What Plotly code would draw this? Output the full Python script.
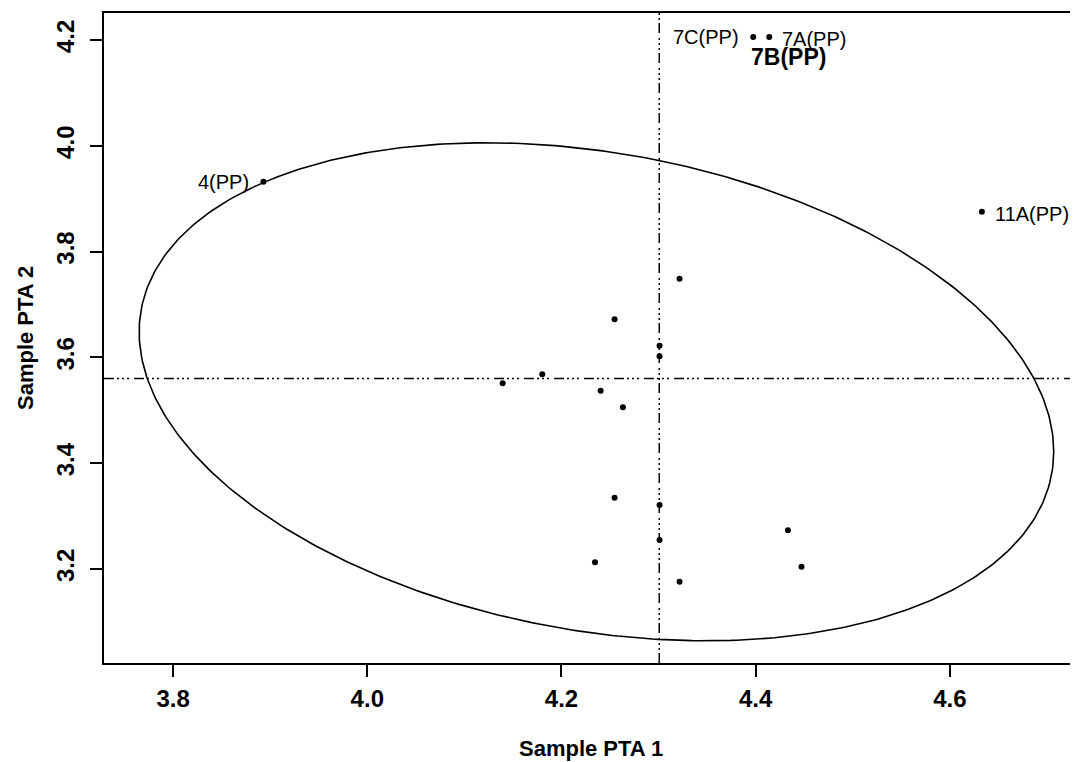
import numpy as np
import plotly.graph_objects as go

# ---- data ----
pta1 = [3.893, 4.3975, 4.414, 4.633, 4.3216, 4.2547, 4.301, 4.301, 4.1802, 4.1394,
        4.2403, 4.2633, 4.2547, 4.301, 4.301, 4.2345, 4.3216, 4.4332, 4.4472]
pta2 = [3.932, 4.2057, 4.2057, 3.8754, 3.7488, 3.672, 3.6221, 3.6021, 3.5681, 3.551,
        3.5371, 3.5057, 3.3348, 3.321, 3.2548, 3.2127, 3.176, 3.2732, 3.2043]

label_names = ["4(PP)", "7C(PP)", "7A(PP)", "11A(PP)", "7B(PP)"]
label_point = [0, 1, 2, 3, 2]          # index of point the label belongs to
label_side = ["left", "left", "right", "right", "below"]

ref_x = 4.3007   # vertical reference line
ref_y = 3.560    # horizontal reference line

# ellipse parameters (center, half-widths, correlation)
ell_cx, ell_cy = 4.236, 3.535
ell_ax, ell_by = 0.471, 0.4707
ell_r = -0.24

x_ticks = [3.8, 4.0, 4.2, 4.4, 4.6]
y_ticks = [3.2, 3.4, 3.6, 3.8, 4.0, 4.2]
x_range = [3.7288, 4.732]
y_range = [3.0223, 4.251]

FONT = "Liberation Sans, Arial, sans-serif"

t = np.linspace(0, 2 * np.pi, 500)
delta = np.arccos(ell_r)
ex = ell_cx + ell_ax * np.cos(t)
ey = ell_cy + ell_by * np.cos(t + delta)

fig = go.Figure()
dash = "10px,3px,2px,3px,2px,3px,2px,5px"
fig.add_trace(go.Scatter(x=[ref_x, ref_x], y=y_range, mode="lines",
                         line=dict(color="black", width=1.5, dash=dash),
                         hoverinfo="skip", showlegend=False))
fig.add_trace(go.Scatter(x=x_range, y=[ref_y, ref_y], mode="lines",
                         line=dict(color="black", width=1.5, dash=dash),
                         hoverinfo="skip", showlegend=False))
fig.add_trace(go.Scatter(x=ex, y=ey, mode="lines",
                         line=dict(color="black", width=1.6),
                         hoverinfo="skip", showlegend=False))
fig.add_trace(go.Scatter(x=pta1, y=pta2, mode="markers",
                         marker=dict(color="black", size=6),
                         showlegend=False))

for name, idx, side in zip(label_names, label_point, label_side):
    px, py = pta1[idx], pta2[idx]
    if side == "left":
        fig.add_annotation(x=px, y=py, text=name, showarrow=False, xanchor="right",
                           yanchor="middle", xshift=-12,
                           font=dict(family=FONT, size=20, color="black"))
    elif side == "right":
        fig.add_annotation(x=px, y=py, text=name, showarrow=False, xanchor="left",
                           yanchor="middle", xshift=11, yshift=-2,
                           font=dict(family=FONT, size=20, color="black"))
    else:
        fig.add_annotation(x=px, y=py, text=name, showarrow=False, xanchor="center",
                           yanchor="middle", xshift=19, yshift=-20,
                           font=dict(family=FONT, size=23, color="black", weight="bold"))

# axis titles
fig.add_annotation(xref="paper", yref="paper", x=0.5, y=0, yanchor="middle",
                   yshift=-85, text="Sample PTA 1", showarrow=False,
                   font=dict(family=FONT, size=22, color="black", weight="bold"))
fig.add_annotation(xref="paper", yref="paper", x=0, y=0.5, xanchor="center",
                   xshift=-79, text="Sample PTA 2", showarrow=False, textangle=-90,
                   font=dict(family=FONT, size=22, color="black", weight="bold"))

axis_common = dict(showgrid=False, zeroline=False, showline=True, linecolor="black",
                   linewidth=2, ticks="outside", ticklen=12, tickwidth=2,
                   tickcolor="black",
                   tickfont=dict(family=FONT, size=24, color="black", weight="bold"))
fig.update_xaxes(range=x_range, tickvals=x_ticks, ticktext=[f"{v:.1f}" for v in x_ticks],
                 mirror=True, ticklabelstandoff=1, **axis_common)
fig.update_yaxes(range=y_range, tickvals=y_ticks, ticktext=[f"{v:.1f}" for v in y_ticks],
                 mirror=False, tickangle=-90, ticklabelstandoff=6, **axis_common)

# page body adds an 8px offset, so the figure is 8px smaller and margins shifted
fig.update_layout(width=1070, height=754, paper_bgcolor="white", plot_bgcolor="white",
                  margin=dict(l=96, r=0, t=5, b=99), showlegend=False)

fig.write_html("out.html")
